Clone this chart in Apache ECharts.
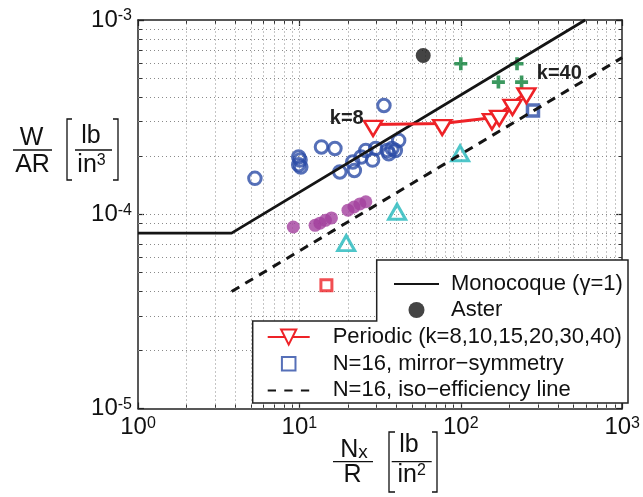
<!DOCTYPE html>
<html>
<head>
<meta charset="utf-8">
<script src="https://cdn.jsdelivr.net/npm/echarts@6/dist/echarts.min.js"></script>
<style>
html, body { margin: 0; padding: 0; background: #fff; }
#chart { width: 643px; height: 497px; }
</style>
</head>
<body>
<div id="chart"></div>
<script>
// values (x = Nx/R, y = W/AR)
var monoX = [1, 3.8, 590];
var monoY = [8e-5, 8e-5, 1e-3];
var isoX = [3.8, 1000];
var isoY = [4e-5, 6.4e-4];
var asterX = [58.5];
var asterY = [6.57e-4];
var periodicK = [8, 10, 15, 20, 30, 40];
var periodicX = [28.6, 76.7, 156, 173, 209, 255];
var periodicY = [2.9e-4, 2.93e-4, 3.14e-4, 3.27e-4, 3.72e-4, 4.27e-4];
var mirrorX = [280];
var mirrorY = [3.42e-4];
var circleX = [5.3, 9.9, 10.1, 9.9, 10.2, 13.7, 16.6, 33.4, 17.8, 21.9, 21.4, 24.1, 25.8, 28.4, 29.7, 35.8, 37.5, 39.3, 41.2, 35];
var circleY = [1.53e-4, 1.97e-4, 1.9e-4, 1.8e-4, 1.75e-4, 2.22e-4, 2.18e-4, 3.63e-4, 1.65e-4, 1.68e-4, 1.86e-4, 1.97e-4, 2.13e-4, 1.9e-4, 2.18e-4, 2.05e-4, 2.18e-4, 2.13e-4, 2.4e-4, 2.13e-4];
var plusX = [100, 223, 171, 238];
var plusY = [5.95e-4, 5.95e-4, 4.79e-4, 4.79e-4];
var cyanX = [99, 40.3, 19.5];
var cyanY = [2.06e-4, 1.03e-4, 7.1e-5];
var starX = [9.16, 12.5, 13.4, 14.5, 15.8, 20, 21.8, 23.7, 25.8];
var starY = [8.6e-5, 8.77e-5, 9.0e-5, 9.3e-5, 9.57e-5, 1.05e-4, 1.09e-4, 1.13e-4, 1.16e-4];
var redSqX = [14.7];
var redSqY = [4.31e-5];
// dotted grid positions (minor + inner majors)
var gridX = [2, 3, 4, 5, 6, 7, 8, 9, 10, 20, 30, 40, 50, 60, 70, 80, 90, 100, 200, 300, 400, 500, 600, 700, 800, 900];
var gridY = [2e-5, 3e-5, 4e-5, 5e-5, 6e-5, 7e-5, 8e-5, 9e-5, 1e-4, 2e-4, 3e-4, 4e-4, 5e-4, 6e-4, 7e-4, 8e-4, 9e-4];

var legendTop = ['Monocoque (\u03b3=1)', 'Aster'];
var legendBottom = ['Periodic (k=8,10,15,20,30,40)', 'N=16, mirror\u2212symmetry', 'N=16, iso\u2212efficiency line'];

function zip(xs, ys) {
  return xs.map(function (x, i) { return [x, ys[i]]; });
}

var FONT = '"Liberation Sans", Arial, sans-serif';
var RED = '#ee2227';
var BLUE = '#2c4ca6';
var gridStyle = { color: '#8a8a8a', width: 1, type: [1, 3] };

function powLabel(v) {
  var e = Math.round(Math.log10(v));
  return '{b|10}{s|' + e + '}';
}
var labelRich = {
  b: { fontSize: 24, fontFamily: FONT, color: '#111', lineHeight: 24, verticalAlign: 'middle' },
  s: { fontSize: 16, fontFamily: FONT, color: '#111', lineHeight: 16, verticalAlign: 'top' }
};

var periodicData = zip(periodicX, periodicY).map(function (p, i) {
  var item = { value: p };
  if (i === 0) {
    item.label = { show: true, formatter: 'k=' + periodicK[i], position: 'left', distance: -1, offset: [0, -10] };
  } else if (i === periodicK.length - 1) {
    item.label = { show: true, formatter: 'k=' + periodicK[i], position: 'right', distance: 0, offset: [0, -22] };
  }
  return item;
});

var gridLines = gridX.map(function (v) { return { xAxis: v }; })
  .concat(gridY.map(function (v) { return { yAxis: v }; }));

var axisBox = { show: true, lineStyle: { color: '#222', width: 1.5 } };
var tickIn = { show: true, inside: true, length: 6, lineStyle: { color: '#222', width: 1.2 } };
var minorIn = { show: true, splitNumber: 9, length: 4, lineStyle: { color: '#333', width: 1 } };
var hideSymbol = { opacity: 0 };

var myChart = echarts.init(document.getElementById('chart'));
var option = {
  animation: false,
  backgroundColor: '#fff',
  grid: { left: 138, right: 12, top: 20, bottom: 88.5 },
  xAxis: [
    {
      type: 'log', logBase: 10, min: 1, max: 1000,
      axisLine: axisBox, axisTick: tickIn, minorTick: minorIn,
      axisLabel: { formatter: powLabel, rich: labelRich, margin: 7, showMinLabel: true, showMaxLabel: true },
      splitLine: { show: false }
    },
    {
      type: 'log', logBase: 10, min: 1, max: 1000, position: 'top',
      axisLine: axisBox, axisTick: tickIn, minorTick: minorIn, axisLabel: { show: false }, splitLine: { show: false }
    }
  ],
  yAxis: [
    {
      type: 'log', logBase: 10, min: 1e-5, max: 1e-3,
      axisLine: axisBox, axisTick: tickIn, minorTick: minorIn,
      axisLabel: { formatter: powLabel, rich: labelRich, margin: 6, showMinLabel: true, showMaxLabel: true },
      splitLine: { show: false }
    },
    {
      type: 'log', logBase: 10, min: 1e-5, max: 1e-3, position: 'right',
      axisLine: axisBox, axisTick: tickIn, minorTick: minorIn, axisLabel: { show: false }, splitLine: { show: false }
    }
  ],
  legend: [
    {
      data: [
        { name: legendTop[0], itemStyle: hideSymbol },
        { name: legendTop[1] }
      ],
      orient: 'vertical', left: 388, top: 268,
      itemWidth: 45, itemHeight: 16, itemGap: 4,
      textStyle: { fontSize: 22, fontFamily: FONT, color: '#111', lineHeight: 22, padding: [0, 0, 0, 7] }
    },
    {
      data: [
        { name: legendBottom[0] },
        { name: legendBottom[1], icon: 'path://M-2,-2M0,0H10V10H0ZM12,12' },
        { name: legendBottom[2], itemStyle: hideSymbol, lineStyle: { type: [8.3, 8.3] } }
      ],
      orient: 'vertical', left: 261.7, top: 321,
      itemWidth: 42, itemHeight: 19, itemGap: 4.7,
      textStyle: { fontSize: 22, fontFamily: FONT, color: '#111', lineHeight: 22, padding: [0, 0, 0, 18] }
    }
  ],
  graphic: [
    // stepped legend frame
    { type: 'polygon', z: 3, shape: { points: [[376.7, 260], [628, 260], [628, 403], [252.7, 403], [252.7, 321], [376.7, 321]] },
      style: { fill: '#fff', stroke: '#222', lineWidth: 1.5 } },
    // y title
    { type: 'text', style: { x: 31.5, y: 138, text: 'W', font: '25px ' + FONT, fill: '#111', align: 'center', verticalAlign: 'middle' } },
    { type: 'line', shape: { x1: 13, y1: 150, x2: 52, y2: 150 }, style: { stroke: '#111', lineWidth: 1.3 } },
    { type: 'text', style: { x: 32.5, y: 165.5, text: 'AR', font: '25px ' + FONT, fill: '#111', align: 'center', verticalAlign: 'middle' } },
    { type: 'polyline', shape: { points: [[72, 119], [67, 119], [67, 180], [72, 180]] }, style: { fill: null, stroke: '#111', lineWidth: 1.3 } },
    { type: 'text', style: { x: 91, y: 136, text: 'lb', font: '25px ' + FONT, fill: '#111', align: 'center', verticalAlign: 'middle' } },
    { type: 'line', shape: { x1: 75, y1: 150, x2: 112, y2: 150 }, style: { stroke: '#111', lineWidth: 1.3 } },
    { type: 'text', style: { x: 91.5, y: 165, text: '{b|in}{s|3}', align: 'center', verticalAlign: 'middle',
      rich: { b: { font: '25px ' + FONT, fill: '#111', lineHeight: 25 }, s: { font: '16px ' + FONT, fill: '#111', lineHeight: 16, verticalAlign: 'top' } } } },
    { type: 'polyline', shape: { points: [[113, 119], [118, 119], [118, 180], [113, 180]] }, style: { fill: null, stroke: '#111', lineWidth: 1.3 } },
    // x title
    { type: 'text', style: { x: 354, y: 450, text: '{b|N}{s|x}', align: 'center', verticalAlign: 'middle',
      rich: { b: { font: '25px ' + FONT, fill: '#111', lineHeight: 25 }, s: { font: '19px ' + FONT, fill: '#111', lineHeight: 19, verticalAlign: 'bottom' } } } },
    { type: 'line', shape: { x1: 333, y1: 461.7, x2: 373, y2: 461.7 }, style: { stroke: '#111', lineWidth: 1.3 } },
    { type: 'text', style: { x: 352.5, y: 475, text: 'R', font: '25px ' + FONT, fill: '#111', align: 'center', verticalAlign: 'middle' } },
    { type: 'polyline', shape: { points: [[395, 432], [389, 432], [389, 492], [395, 492]] }, style: { fill: null, stroke: '#111', lineWidth: 1.3 } },
    { type: 'text', style: { x: 409, y: 445.5, text: 'lb', font: '25px ' + FONT, fill: '#111', align: 'center', verticalAlign: 'middle' } },
    { type: 'line', shape: { x1: 391.7, y1: 461.7, x2: 431.7, y2: 461.7 }, style: { stroke: '#111', lineWidth: 1.3 } },
    { type: 'text', style: { x: 411.7, y: 475, text: '{b|in}{s|2}', align: 'center', verticalAlign: 'middle',
      rich: { b: { font: '25px ' + FONT, fill: '#111', lineHeight: 25 }, s: { font: '16px ' + FONT, fill: '#111', lineHeight: 16, verticalAlign: 'top' } } } },
    { type: 'polyline', shape: { points: [[432, 432], [437, 432], [437, 492], [432, 492]] }, style: { fill: null, stroke: '#111', lineWidth: 1.3 } }
  ],
  series: [
    {
      // dotted grid
      type: 'line', data: [], silent: true, z: 1,
      markLine: { silent: true, z: 1, precision: 12, symbol: 'none', label: { show: false }, lineStyle: gridStyle, data: gridLines }
    },
    {
      name: legendTop[0], type: 'line', data: zip(monoX, monoY), symbol: 'none', z: 4,
      lineStyle: { color: '#151515', width: 2.8 }, itemStyle: { color: '#151515' }
    },
    {
      name: legendTop[1], type: 'scatter', data: zip(asterX, asterY), symbol: 'circle', symbolSize: 15,
      itemStyle: { color: '#151515' }
    },
    {
      name: legendBottom[0], type: 'line', data: periodicData, z: 5,
      symbol: 'triangle', symbolRotate: 180, symbolSize: [18, 15], symbolOffset: [0, 4], showAllSymbol: true,
      lineStyle: { color: RED, width: 3 },
      itemStyle: { color: '#fff', borderColor: RED, borderWidth: 2.5 },
      label: { fontSize: 20, fontWeight: 'bold', fontFamily: FONT, color: '#222' }
    },
    {
      name: legendBottom[1], type: 'scatter', data: zip(mirrorX, mirrorY), symbol: 'rect', symbolSize: 11,
      itemStyle: { color: '#fff', borderColor: BLUE, borderWidth: 3.5 }
    },
    {
      name: legendBottom[2], type: 'line', data: zip(isoX, isoY), symbol: 'none', z: 4,
      lineStyle: { color: '#151515', width: 3, type: [9, 7] }, itemStyle: { color: '#151515' }
    },
    {
      type: 'scatter', data: zip(circleX, circleY), symbol: 'circle', symbolSize: 12.5,
      itemStyle: { color: 'rgba(0,0,0,0)', borderColor: BLUE, borderWidth: 3 }
    },
    {
      type: 'scatter', data: zip(plusX, plusY), symbolSize: 13,
      symbol: 'path://M3.6,0H6.4V3.6H10V6.4H6.4V10H3.6V6.4H0V3.6H3.6Z',
      itemStyle: { color: '#0b8038' }
    },
    {
      type: 'scatter', data: zip(cyanX, cyanY), symbol: 'triangle', symbolSize: [17, 15],
      itemStyle: { color: 'rgba(0,0,0,0)', borderColor: '#22b8bc', borderWidth: 3 }
    },
    {
      type: 'scatter', data: zip(starX, starY), symbol: 'circle', symbolSize: 13,
      itemStyle: { color: '#a2409e' }
    },
    {
      type: 'scatter', data: zip(redSqX, redSqY), symbol: 'rect', symbolSize: 11,
      itemStyle: { color: '#fff', borderColor: RED, borderWidth: 3 }
    }
  ]
};
myChart.setOption(option);
</script>
</body>
</html>
